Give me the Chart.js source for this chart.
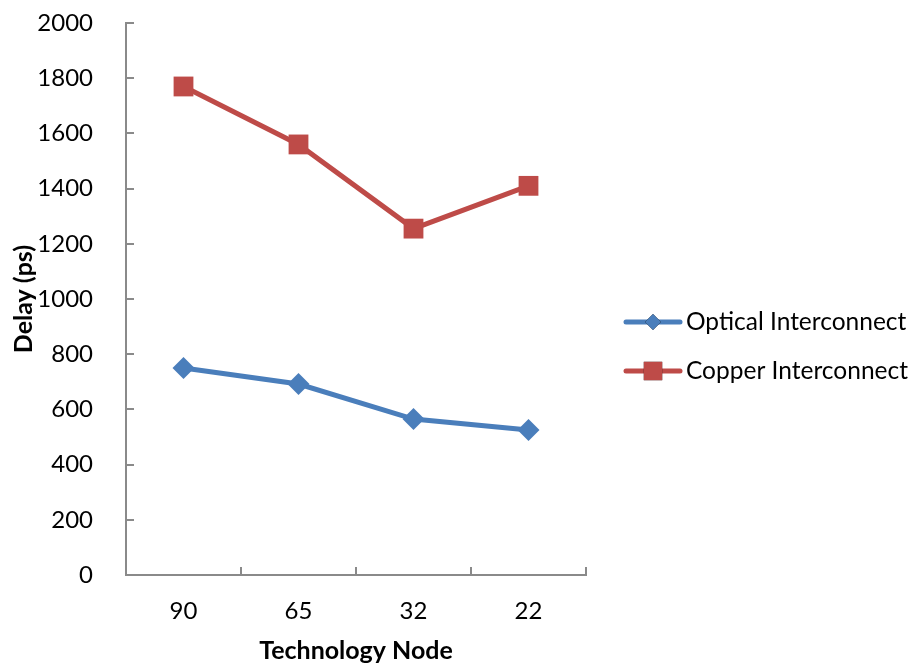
<!DOCTYPE html>
<html>
<head>
<meta charset="utf-8">
<script src="https://cdn.jsdelivr.net/npm/chart.js@4"></script>
<style>
  body { margin: 0; background: #fff; }
  #wrap { width: 912px; height: 666px; position: relative; }
</style>
</head>
<body>
<div id="wrap"><canvas id="delayChart"></canvas></div>
<script>
// Data
const nodes = ['90', '65', '32', '22'];
const opticalDelay = [750, 692, 565, 525];
const copperDelay = [1770, 1560, 1255, 1410];
const yTicks = [0, 200, 400, 600, 800, 1000, 1200, 1400, 1600, 1800, 2000];

const axisColor = '#8a8a8a';
const fontFamily = 'Lato';

// Excel-style tick marks that point into the plot
const insideTicks = {
  id: 'insideTicks',
  afterDraw(chart) {
    const ctx = chart.ctx;
    const x = chart.scales.x;
    const y = chart.scales.y;
    const area = chart.chartArea;
    ctx.save();
    ctx.strokeStyle = axisColor;
    ctx.lineWidth = 2;
    ctx.beginPath();
    yTicks.forEach(v => {
      const py = Math.round(y.getPixelForValue(v));
      ctx.moveTo(area.left, py);
      ctx.lineTo(area.left + 8, py);
    });
    for (let i = 0; i <= nodes.length; i++) {
      const px = Math.round(x.getPixelForValue(i - 0.5));
      ctx.moveTo(px, area.bottom);
      ctx.lineTo(px, area.bottom - 8);
    }
    ctx.stroke();
    ctx.restore();
  }
};

// Legend with a line through the marker, like the original
const lineLegend = {
  id: 'lineLegend',
  afterDraw(chart) {
    const ctx = chart.ctx;
    const area = chart.chartArea;
    const left = area.right + 40;
    const rows = [322, 371];
    ctx.save();
    ctx.font = '24.5px ' + fontFamily;
    ctx.textBaseline = 'middle';
    chart.data.datasets.forEach((ds, i) => {
      const cy = rows[i];
      ctx.strokeStyle = ds.borderColor;
      ctx.lineWidth = 5;
      ctx.lineCap = 'round';
      ctx.beginPath();
      ctx.moveTo(left, cy);
      ctx.lineTo(left + 54, cy);
      ctx.stroke();
      Chart.helpers.drawPoint(ctx, {
        pointStyle: ds.pointStyle,
        radius: ds.pointStyle === 'rectRot' ? 8 : 13,
        borderWidth: 0
      }, left + 27, cy);
      ctx.fillStyle = ds.pointBackgroundColor;
      ctx.fill();
      ctx.fillStyle = '#000';
      ctx.fillText(ds.label, left + 60, cy);
    });
    ctx.restore();
  }
};

const ctx = document.getElementById('delayChart').getContext('2d');
const delayChart = new Chart(ctx, {
  type: 'line',
  data: {
    labels: nodes,
    datasets: [
      {
        label: 'Optical Interconnect',
        data: opticalDelay,
        borderColor: '#4a7ebb',
        backgroundColor: '#4a7ebb',
        pointBackgroundColor: '#4a7ebb',
        pointBorderColor: '#4a7ebb',
        borderWidth: 5,
        pointStyle: 'rectRot',
        pointRadius: 11,
        pointBorderWidth: 0,
        tension: 0
      },
      {
        label: 'Copper Interconnect',
        data: copperDelay,
        borderColor: '#be4b48',
        backgroundColor: '#be4b48',
        pointBackgroundColor: '#be4b48',
        pointBorderColor: '#be4b48',
        borderWidth: 5,
        pointStyle: 'rect',
        pointRadius: 14,
        pointBorderWidth: 0,
        tension: 0
      }
    ]
  },
  options: {
    responsive: true,
    maintainAspectRatio: false,
    animation: false,
    layout: { padding: { top: 23, right: 326, left: 0, bottom: 0 } },
    font: { family: fontFamily },
    plugins: {
      legend: { display: false },
      tooltip: { enabled: false }
    },
    scales: {
      x: {
        type: 'category',
        offset: true,
        grid: { display: false },
        border: { display: true, color: axisColor, width: 2 },
        ticks: {
          color: '#000',
          padding: 14,
          font: { family: fontFamily, size: 24 }
        },
        title: {
          display: true,
          text: 'Technology Node',
          color: '#000',
          padding: { top: 1, bottom: 0 },
          font: { family: fontFamily, size: 25, weight: 'bold' }
        },
        afterFit(scale) { scale.height = 91; }
      },
      y: {
        min: 0,
        max: 2000,
        grid: { display: false },
        border: { display: true, color: axisColor, width: 2 },
        afterBuildTicks(scale) { scale.ticks = yTicks.map(v => ({ value: v })); },
        ticks: {
          color: '#000',
          padding: 25,
          font: { family: fontFamily, size: 24 },
          callback: v => String(v)
        },
        title: {
          display: true,
          text: 'Delay (ps)',
          color: '#000',
          padding: { top: 9, bottom: 0 },
          font: { family: fontFamily, size: 25, weight: 'bold' }
        },
        afterFit(scale) {
          scale.width = 126;
          scale.paddingTop = 0;
          scale.paddingBottom = 0;
        }
      }
    }
  },
  plugins: [insideTicks, lineLegend]
});
</script>
</body>
</html>
